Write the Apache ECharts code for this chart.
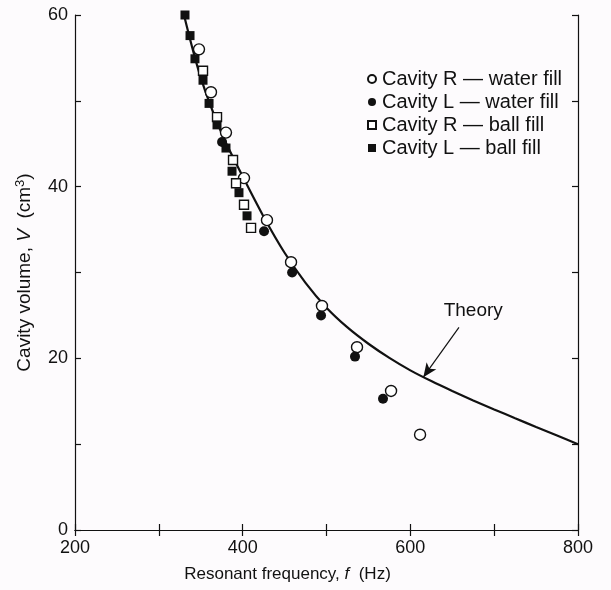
<!DOCTYPE html>
<html><head><meta charset="utf-8">
<script src="https://cdn.jsdelivr.net/npm/echarts@6/dist/echarts.min.js"></script>
<style>html,body{margin:0;padding:0;background:#fdfbfd;}#c{width:611px;height:590px;}</style>
</head><body><div id="c"></div>
<script>
// Data
const rWaterFreq = [347.9, 362.2, 380.1, 401.6, 429.0, 457.7, 494.6, 536.4, 577.0, 611.6];
const rWaterVol  = [56.0, 51.0, 46.3, 41.0, 36.1, 31.2, 26.1, 21.3, 16.2, 11.1];
const lWaterFreq = [375.4, 425.5, 459.0, 493.5, 534.0, 567.4];
const lWaterVol  = [45.2, 34.8, 30.0, 25.0, 20.2, 15.3];
const rBallFreq = [352.7, 369.4, 388.5, 392.1, 401.6, 410.0];
const rBallVol  = [53.5, 48.1, 43.1, 40.4, 37.9, 35.2];
const lBallFreq = [331.2, 337.2, 343.1, 352.7, 359.9, 369.4, 380.1, 387.3, 395.6, 405.2];
const lBallVol  = [60.0, 57.6, 54.9, 52.4, 49.7, 47.2, 44.5, 41.8, 39.3, 36.6];
const theoryFreq = [330, 350, 375, 400, 425, 450, 475, 500, 525, 550, 575, 600, 625, 650, 675, 700, 725, 750, 775, 800];
const theoryVol  = [60.0, 52.7, 46.2, 41.2, 36.5, 32.3, 28.8, 25.9, 23.6, 21.7, 20.05, 18.6, 17.35, 16.2, 15.1, 14.05, 13.02, 12.0, 11.0, 10.0];
const xTicks = [200, 400, 600, 800];
const yTicks = [0, 20, 40, 60];
const seriesNames = ['Cavity R \u2014 water fill', 'Cavity L \u2014 water fill', 'Cavity R \u2014 ball fill', 'Cavity L \u2014 ball fill'];

const zip = (a, b) => a.map((v, i) => [v, b[i]]);
const FONT = 'Liberation Sans';
const chart = echarts.init(document.getElementById('c'), null, {renderer: 'canvas'});

function scatter(name, f, v, symbol, size, filled) {
  return {
    name, type: 'scatter', data: zip(f, v), symbol, symbolSize: size,
    itemStyle: {color: filled ? '#111' : '#fff', borderColor: '#111', borderWidth: filled ? 0 : 1.4, opacity: 1},
    z: 3
  };
}

const baseX = {
  type: 'value', min: 200, max: 800, interval: 100,
  axisLine: {lineStyle: {color: '#111', width: 1.2}},
  axisTick: {inside: true, length: 6, lineStyle: {color: '#111', width: 1.2}},
  splitLine: {show: false}
};
const baseY = {
  type: 'value', min: 0, max: 60, interval: 10,
  axisLine: {lineStyle: {color: '#111', width: 1.2}},
  axisTick: {inside: true, length: 6, lineStyle: {color: '#111', width: 1.2}},
  splitLine: {show: false}
};

chart.setOption({
  backgroundColor: '#fdfbfd',
  animation: false,
  grid: {left: 75, right: 33, top: 15, bottom: 60},
  legend: {
    data: seriesNames, orient: 'vertical', left: 362, top: 64, itemGap: 3,
    itemWidth: 8, itemHeight: 8,
    textStyle: {fontFamily: FONT, fontSize: 20, lineHeight: 20, color: '#111', padding: [0, 0, 0, 1]}
  },
  xAxis: [
    Object.assign({}, baseX, {
      position: 'bottom',
      name: 'Resonant frequency, {i|f}  (Hz)', nameLocation: 'middle', nameGap: 36,
      nameTextStyle: {fontFamily: FONT, fontSize: 17, color: '#111', padding: [0, 78, 0, 0],
        rich: {i: {fontFamily: FONT, fontStyle: 'italic', fontSize: 17, color: '#111'}}},
      axisLabel: {fontFamily: FONT, fontSize: 18, color: '#111', margin: 9,
        formatter: v => xTicks.includes(v) ? String(v) : ''}
    }),
    Object.assign({}, baseX, {position: 'top', axisLabel: {show: false}})
  ],
  yAxis: [
    Object.assign({}, baseY, {
      position: 'left',
      name: 'Cavity volume, {i|V}  (cm{s|3})', nameLocation: 'middle', nameGap: 39,
      nameTextStyle: {fontFamily: FONT, fontSize: 19, color: '#111',
        rich: {i: {fontFamily: FONT, fontStyle: 'italic', fontSize: 19, color: '#111'},
               s: {fontFamily: FONT, fontSize: 13, color: '#111', verticalAlign: 'bottom', padding: [0, 0, 9, 0]}}},
      axisLabel: {fontFamily: FONT, fontSize: 18, color: '#111', margin: 7,
        formatter: v => yTicks.includes(v) ? String(v) : ''}
    }),
    Object.assign({}, baseY, {position: 'right', axisLabel: {show: false}})
  ],
  series: [
    {
      name: 'Theory', type: 'line', data: zip(theoryFreq, theoryVol), smooth: 0.3,
      showSymbol: false, lineStyle: {color: '#111', width: 2.2}, z: 2,
      markLine: {
        silent: true, symbol: ['none', 'arrow'], symbolSize: [9, 14],
        lineStyle: {color: '#111', width: 1.2, type: 'solid'},
        label: {show: false},
        data: [[{coord: [658, 23.6]}, {coord: [615.5, 17.8]}]]
      },
      markPoint: {
        symbol: 'circle', symbolSize: 0,
        label: {show: true, formatter: 'Theory', fontFamily: FONT, fontSize: 19, color: '#111'},
        data: [{coord: [675, 25.6]}]
      }
    },
    scatter(seriesNames[0], rWaterFreq, rWaterVol, 'circle', 11, false),
    scatter(seriesNames[1], lWaterFreq, lWaterVol, 'circle', 10, true),
    scatter(seriesNames[2], rBallFreq, rBallVol, 'rect', 9, false),
    scatter(seriesNames[3], lBallFreq, lBallVol, 'rect', 9, true)
  ]
});
</script></body></html>
